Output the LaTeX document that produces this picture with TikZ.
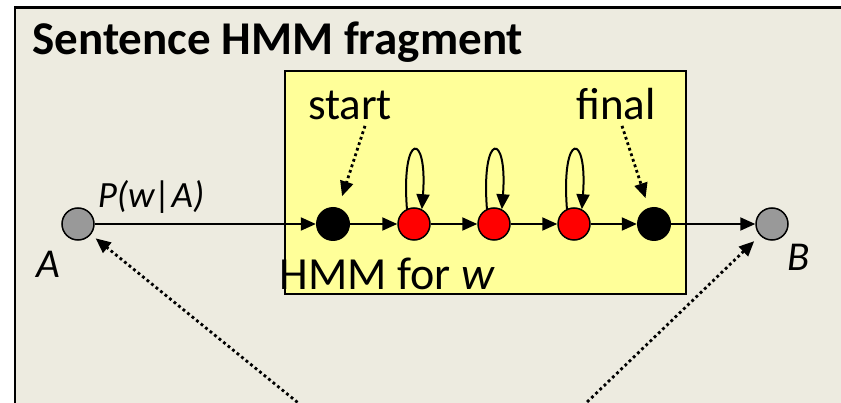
\documentclass[tikz,border=0pt]{standalone}
\usepackage{fontspec}
\setmainfont{Carlito}
\usetikzlibrary{arrows.meta}
\definecolor{bg}{HTML}{EDEBE0}
\definecolor{boxyellow}{HTML}{FFFF99}
\definecolor{nodegray}{HTML}{999999}
\begin{document}
\begin{tikzpicture}[x=1pt,y=-1pt,
  fs/.style={font=\fontsize{#1}{#1}\selectfont},
  fsi/.style={font=\fontsize{#1}{#1}\selectfont\itshape},
  fsb/.style={font=\fontsize{#1}{#1}\selectfont\bfseries},
  edge/.style={line width=2pt,-{Triangle[length=15pt,width=13pt]}},
  dotarrow/.style={line width=2.8pt,dash pattern=on 2.8pt off 3pt,-{Triangle[length=15pt,width=13pt]}},
  state/.style={circle,draw,line width=1.5pt,minimum size=32pt,inner sep=0pt},
  endstate/.style={circle,fill=black,minimum size=34pt,inner sep=0pt}]
\useasboundingbox (0,0) rectangle (841,403);
\fill[white] (0,0) rectangle (841,403);
\fill[bg] (15,7.5) rectangle (841,403);
\draw[line width=2.5pt] (15,403) -- (15,7.5) -- (841,7.5);
\node[anchor=base west,fsb=47] (title) at (29,55) {Sentence HMM fragment};
\draw[line width=2pt,fill=boxyellow] (285,71) rectangle (686,294);
% states
\node[state,fill=nodegray] (A) at (78,224) {};
\node[state,fill=nodegray] (B) at (772,224) {};
\node[endstate] (s0) at (333,224) {};
\node[state,fill=red] (r1) at (414,224) {};
\node[state,fill=red] (r2) at (494,224) {};
\node[state,fill=red] (r3) at (574,224) {};
\node[endstate] (sf) at (654,224) {};
% labels
\node[fsi=41,anchor=base] (Alab) at (48,278) {A};
\node[fsi=41,anchor=base] (Blab) at (799,271) {B};
\node[fsi=37,anchor=base] (pw) at (151,208) {P(w|A)};
\node[anchor=base,fs=45] (start) at (350,120) {start};
\node[anchor=base,fs=45] (final) at (616,120) {final};
\node[anchor=base west,fs=46] (hmm) at (276,290) {HMM for \textit{w}};
% chain
\draw[edge] (A) -- (s0);
\draw[edge] (s0) -- (r1);
\draw[edge] (r1) -- (r2);
\draw[edge] (r2) -- (r3);
\draw[edge] (r3) -- (sf);
\draw[edge] (sf) -- (B);
% self loops
\foreach \n in {r1,r2,r3}{
  \draw[edge] (\n.115) .. controls +(-6,-78) and +(6,-78) .. (\n.62);
}
% dotted pointers
\draw[dotarrow,shorten >=12pt] ([xshift=15pt,yshift=-2pt]start.south) -- (s0);
\draw[dotarrow,shorten >=10pt] ([xshift=6pt,yshift=-2pt]final.south) -- (sf);
\coordinate (pA) at (302,406);
\coordinate (pB) at (583,406);
\draw[dotarrow,shorten >=6pt] (pA) -- (A);
\draw[dotarrow,shorten >=8pt] (pB) -- (B);
\end{tikzpicture}
\end{document}
